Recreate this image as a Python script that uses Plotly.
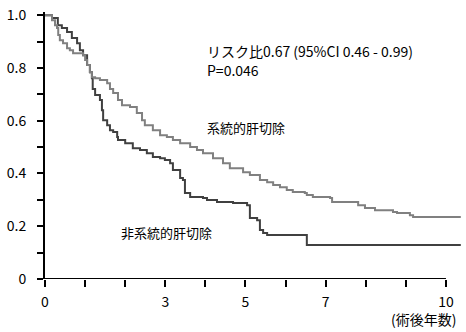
import plotly.graph_objects as go

# Kaplan-Meier survival after hepatectomy (years after surgery)
sys_time = [0, 0.175, 0.25, 0.30, 0.33, 0.37, 0.45, 0.55, 0.62, 0.70, 0.95, 1.00, 1.05,
            1.12, 1.17, 1.25, 1.37, 1.55, 1.62, 1.70, 1.82, 1.92, 2.12, 2.29, 2.42, 2.49,
            2.69, 2.87, 3.04, 3.19, 3.37, 3.62, 3.79, 3.94, 4.19, 4.44, 4.61, 4.94, 5.11,
            5.36, 5.54, 5.69, 5.86, 6.03, 6.18, 6.48, 6.53, 6.68, 7.11, 7.16, 7.81, 7.98,
            8.23, 8.68, 8.78, 9.10, 9.18, 10.37]
sys_surv = [1.0, 0.981, 0.962, 0.951, 0.925, 0.905, 0.894, 0.875, 0.867, 0.856, 0.848, 0.830,
            0.811, 0.784, 0.765, 0.761, 0.754, 0.742, 0.720, 0.705, 0.678, 0.659, 0.652,
            0.629, 0.602, 0.583, 0.564, 0.545, 0.538, 0.527, 0.515, 0.500, 0.489, 0.477,
            0.458, 0.439, 0.420, 0.405, 0.394, 0.375, 0.367, 0.356, 0.348, 0.337, 0.330,
            0.326, 0.318, 0.311, 0.307, 0.292, 0.280, 0.269, 0.261, 0.254, 0.250, 0.242,
            0.235, 0.235]

nonsys_time = [0, 0.175, 0.32, 0.42, 0.55, 0.67, 0.80, 0.87, 0.95, 1.05, 1.12, 1.17, 1.19,
               1.25, 1.37, 1.42, 1.45, 1.55, 1.62, 1.70, 1.80, 1.82, 2.00, 2.19, 2.37, 2.54,
               2.69, 2.87, 2.99, 3.12, 3.19, 3.37, 3.44, 3.49, 3.62, 3.94, 4.04, 4.29, 4.69,
               5.04, 5.11, 5.29, 5.36, 5.44, 5.54, 6.53, 10.37]
nonsys_surv = [1.0, 0.989, 0.962, 0.951, 0.936, 0.913, 0.894, 0.867, 0.848, 0.811, 0.784,
               0.761, 0.720, 0.697, 0.678, 0.640, 0.602, 0.583, 0.564, 0.557, 0.538, 0.527,
               0.515, 0.496, 0.489, 0.477, 0.462, 0.458, 0.451, 0.439, 0.413, 0.383, 0.375,
               0.326, 0.311, 0.307, 0.299, 0.292, 0.288, 0.280, 0.231, 0.223, 0.186, 0.174,
               0.167, 0.129, 0.129]

x_ticks = [0, 1, 2, 3, 4, 5, 6, 7, 8, 9, 10]
x_labels = ["0", "", "", "3", "", "5", "", "7", "", "", "10"]
y_ticks = [0, 0.1, 0.2, 0.3, 0.4, 0.5, 0.6, 0.7, 0.8, 0.9, 1.0]
y_labels = ["0", "", "0.2", "", "0.4", "", "0.6", "", "0.8", "", "1.0"]

FONT = "Noto Sans CJK JP"

fig = go.Figure()
fig.add_trace(go.Scatter(x=nonsys_time, y=nonsys_surv, mode="lines",
                         line=dict(shape="hv", color="#404040", width=2),
                         name="非系統的肝切除"))
fig.add_trace(go.Scatter(x=sys_time, y=sys_surv, mode="lines",
                         line=dict(shape="hv", color="#808080", width=2),
                         name="系統的肝切除"))

# x axis baseline stops at 10 years
fig.add_shape(type="line", x0=0, x1=10, y0=0, y1=0, xref="x", yref="y",
              line=dict(color="black", width=2), layer="above")

texts = [
    ("リスク比0.67 (95%CI 0.46 - 0.99)", 205, 51, 14),
    ("P=0.046", 205, 70, 14),
    ("系統的肝切除", 205, 127, 13),
    ("非系統的肝切除", 119, 232, 13),
]
for txt, px, py, fs in texts:
    fig.add_annotation(x=(px - 45) / 40.1, y=(279 - py) / 264, xref="x", yref="y",
                       text=txt, showarrow=False, xanchor="left", yanchor="middle",
                       font=dict(family=FONT, size=fs, color="black"))
fig.add_annotation(x=(423 - 45) / 417, y=(279 - 319) / 267, xref="paper", yref="paper",
                   text="(術後年数)", showarrow=False, xanchor="center",
                   yanchor="middle", font=dict(family=FONT, size=14, color="black"))

fig.update_layout(
    width=466, height=332,
    margin=dict(l=45, r=4, t=12, b=53),
    paper_bgcolor="white", plot_bgcolor="white",
    showlegend=False,
    font=dict(family=FONT, size=14, color="black"),
)
fig.update_xaxes(range=[0, 10.4], tickvals=x_ticks, ticktext=x_labels,
                 ticks="outside", ticklen=7, tickwidth=2, tickcolor="black",
                 showline=False, showgrid=False, zeroline=False, ticklabelstandoff=3,
                 tickfont=dict(family=FONT, size=14, color="black"))
fig.update_yaxes(range=[0, 1.012], tickvals=y_ticks, ticktext=y_labels,
                 ticks="outside", ticklen=6, tickwidth=2, tickcolor="black",
                 showline=True, linewidth=2, linecolor="black",
                 showgrid=False, zeroline=False, ticklabelstandoff=8,
                 tickfont=dict(family=FONT, size=14, color="black"))

fig.write_html("out.html")
